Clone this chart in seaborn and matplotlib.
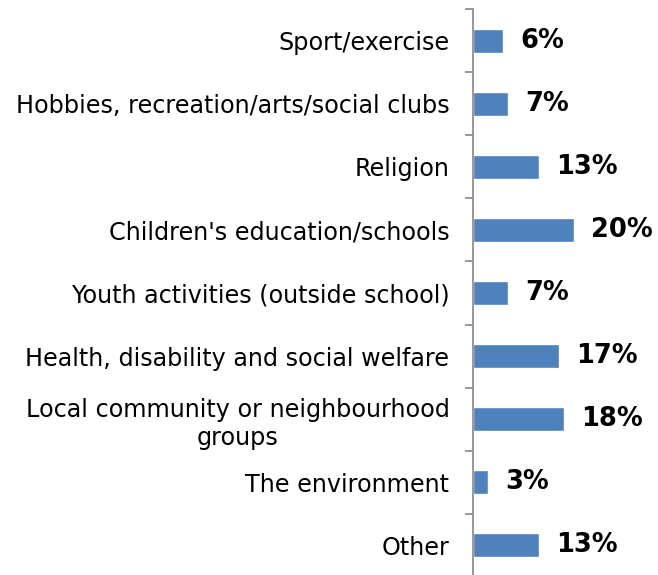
import matplotlib
matplotlib.use("Agg")
import matplotlib.pyplot as plt
import seaborn as sns
import pandas as pd
from matplotlib.ticker import FixedLocator

categories = [
    "Sport/exercise",
    "Hobbies, recreation/arts/social clubs",
    "Religion",
    "Children's education/schools",
    "Youth activities (outside school)",
    "Health, disability and social welfare",
    "Local community or neighbourhood\ngroups",
    "The environment",
    "Other",
]
values = [6, 7, 13, 20, 7, 17, 18, 3, 13]
value_labels = ["6%", "7%", "13%", "20%", "7%", "17%", "18%", "3%", "13%"]

df = pd.DataFrame({"category": categories, "value": values})

sns.set_theme(style="white")
plt.rcParams["font.family"] = ["DejaVu Sans"]

W, H = 658, 575
fig = plt.figure(figsize=(W / 100, H / 100), dpi=100)
left, top, right, bottom = 473, 9, 658, 577
ax = fig.add_axes([left / W, 1 - bottom / H, (right - left) / W, (bottom - top) / H])

sns.barplot(data=df, x="value", y="category", orient="h", color="#4F81BD",
            saturation=1, width=0.38, ax=ax)

ax.set_xlim(0, (right - left) / 5.05)
ax.set_ylim(len(categories) - 0.5, -0.5)

for bar, lab in zip(ax.patches, value_labels):
    ax.annotate(lab, (bar.get_width(), bar.get_y() + bar.get_height() / 2),
                xytext=(12.5, 0), textcoords="offset points",
                ha="left", va="center", fontsize=18.5, fontweight="bold",
                color="black")

for s in ["top", "right", "bottom"]:
    ax.spines[s].set_visible(False)
ax.spines["left"].set_color("#868686")
ax.spines["left"].set_linewidth(1.2)

ax.set_xticks([])
ax.set_xlabel("")
ax.set_ylabel("")
ax.yaxis.set_minor_locator(FixedLocator([i - 0.5 for i in range(len(categories) + 1)]))
ax.tick_params(axis="y", which="major", length=0, pad=17, labelsize=17.2,
               labelcolor="black")
ax.tick_params(axis="y", which="minor", left=True, length=5.5, width=1.2,
               color="#868686", direction="out")
for t in ax.get_yticklabels():
    t.set_multialignment("center")

fig.savefig("out.png", dpi=100, facecolor="white")
